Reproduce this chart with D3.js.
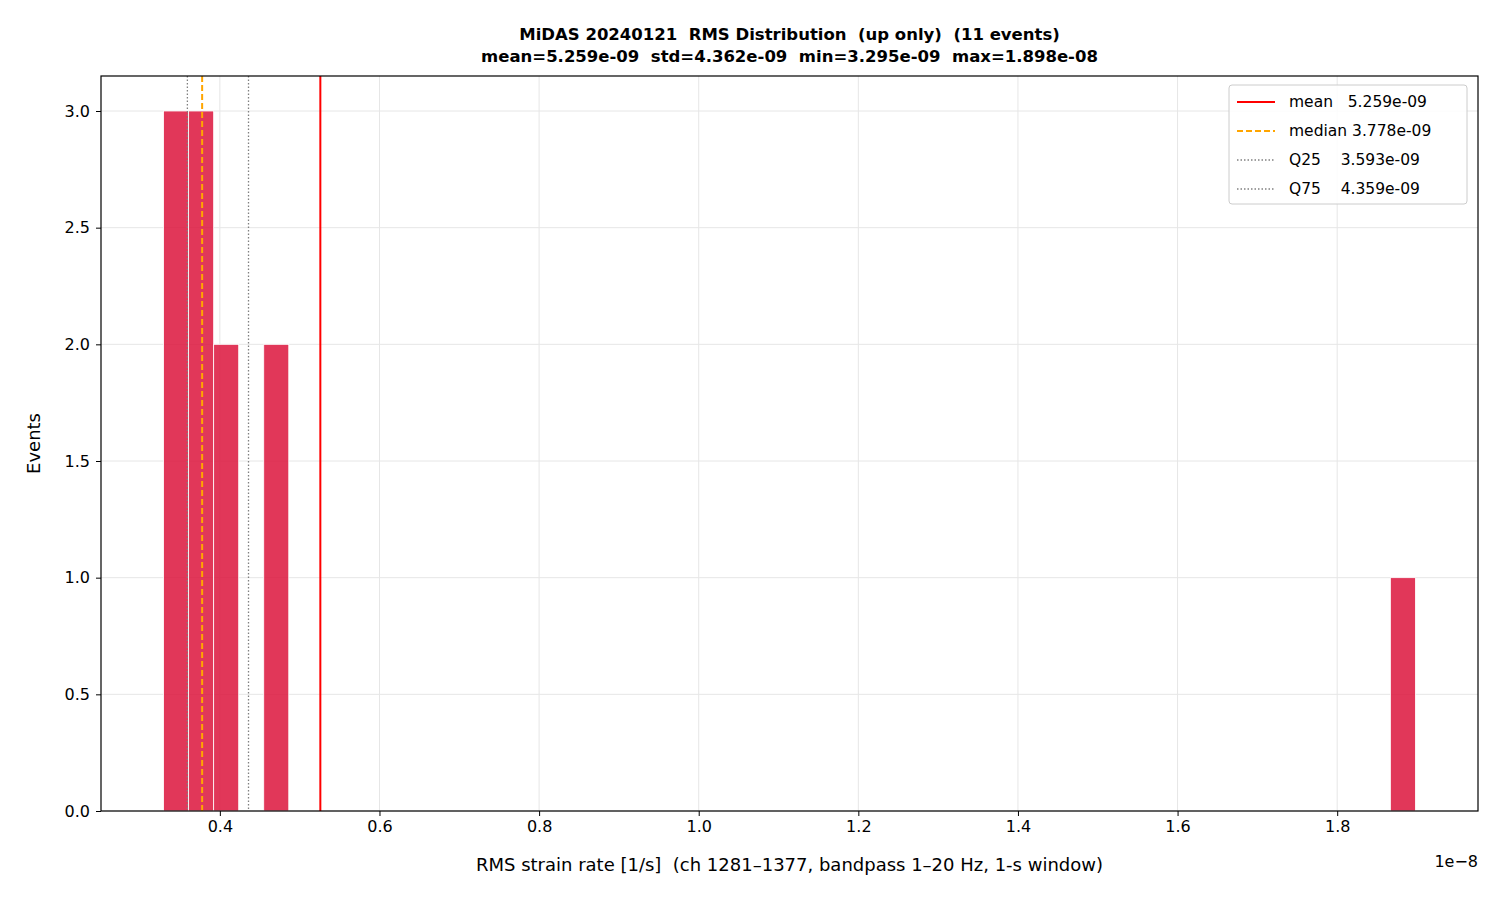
<!DOCTYPE html>
<html><head><meta charset="utf-8">
<script src="https://cdn.jsdelivr.net/npm/d3@7"></script>
<style>body{margin:0;background:#fff}text{font-family:"DejaVu Sans",sans-serif;white-space:pre}</style>
</head><body><svg id="c" width="1500" height="900"></svg>
<script>
const titleLines=["MiDAS 20240121  RMS Distribution  (up only)  (11 events)","mean=5.259e-09  std=4.362e-09  min=3.295e-09  max=1.898e-08"];
const dataMin=0.3295, dataMax=1.898, nBins=50;
const counts=[3,3,2,0,2,0,0,0,0,0,0,0,0,0,0,0,0,0,0,0,0,0,0,0,0,0,0,0,0,0,0,0,0,0,0,0,0,0,0,0,0,0,0,0,0,0,0,0,0,1];
const xTicks=[0.4,0.6,0.8,1.0,1.2,1.4,1.6,1.8];
const yTicks=[0,0.5,1,1.5,2,2.5,3];
const stats=[{name:"mean",label:"mean   5.259e-09",v:0.5259,color:"red",dash:null,w:2},
{name:"median",label:"median 3.778e-09",v:0.3778,color:"orange",dash:"6,3",w:2},
{name:"Q25",label:"Q25    3.593e-09",v:0.3593,color:"gray",dash:"1.5,2",w:1.3},
{name:"Q75",label:"Q75    4.359e-09",v:0.4359,color:"gray",dash:"1.5,2",w:1.3}];
const L=101,R=1478,T=76,B=811;
const svg=d3.select("#c");
const pad=(dataMax-dataMin)*0.05;
const x=d3.scaleLinear().domain([dataMin-pad,dataMax+pad]).range([L,R]);
const y=d3.scaleLinear().domain([0,3.15]).range([B,T]);
const bw=(dataMax-dataMin)/nBins;
svg.append("g").selectAll("line").data(xTicks).join("line").attr("x1",d=>x(d)).attr("x2",d=>x(d)).attr("y1",T).attr("y2",B).attr("stroke","#e6e6e6");
svg.append("g").selectAll("line").data(yTicks).join("line").attr("y1",d=>y(d)).attr("y2",d=>y(d)).attr("x1",L).attr("x2",R).attr("stroke","#e6e6e6");
svg.append("g").selectAll("rect").data(counts.map((c,i)=>({c,i})).filter(d=>d.c>0)).join("rect")
.attr("x",d=>x(dataMin+d.i*bw)).attr("width",d=>x(dataMin+(d.i+1)*bw)-x(dataMin+d.i*bw))
.attr("y",d=>y(d.c)).attr("height",d=>B-y(d.c)).attr("fill","#dc143c").attr("fill-opacity",0.85).attr("stroke","#fff").attr("stroke-width",0.8);
stats.forEach(s=>svg.append("line").attr("x1",x(s.v)).attr("x2",x(s.v)).attr("y1",T).attr("y2",B).attr("stroke",s.color).attr("stroke-width",s.w).attr("stroke-dasharray",s.dash));
svg.append("rect").attr("x",L).attr("y",T).attr("width",R-L).attr("height",B-T).attr("fill","none").attr("stroke","#000").attr("stroke-width",1.2);
const xa=svg.append("g").attr("transform",`translate(0,${B})`).call(d3.axisBottom(x).tickValues(xTicks).tickFormat(d3.format(".1f")).tickSizeOuter(0).tickSize(5).tickPadding(5));
const ya=svg.append("g").attr("transform",`translate(${L},0)`).call(d3.axisLeft(y).tickValues(yTicks).tickFormat(d3.format(".1f")).tickSizeOuter(0).tickSize(5).tickPadding(6));
[xa,ya].forEach(a=>{a.attr("font-size",16).attr("font-family","DejaVu Sans");a.select(".domain").remove();a.selectAll("text").attr("fill","#000");a.selectAll("line").attr("stroke","#000");});
svg.append("text").attr("x",R).attr("y",867).attr("text-anchor","end").attr("font-size",16).text("1e−8");
svg.append("text").attr("x",(L+R)/2).attr("y",871).attr("text-anchor","middle").attr("font-size",18).text("RMS strain rate [1/s]  (ch 1281–1377, bandpass 1–20 Hz, 1-s window)");
svg.append("text").attr("transform",`translate(40,${(T+B)/2}) rotate(-90)`).attr("text-anchor","middle").attr("font-size",18).text("Events");
titleLines.forEach((t,i)=>svg.append("text").attr("x",(L+R)/2).attr("y",40+i*22).attr("text-anchor","middle").attr("font-size",16.5).attr("font-weight","bold").text(t));
const lg=svg.append("g").attr("transform","translate(1229,85)");
lg.append("rect").attr("width",238).attr("height",119).attr("rx",3).attr("fill","#fff").attr("fill-opacity",0.85).attr("stroke","#ccc");
stats.forEach((s,i)=>{const yy=17+i*29;
lg.append("line").attr("x1",8).attr("x2",46).attr("y1",yy).attr("y2",yy).attr("stroke",s.color).attr("stroke-width",s.w).attr("stroke-dasharray",s.dash);
lg.append("text").attr("x",60).attr("y",yy+5).attr("font-size",15.5).text(s.label);});
</script></body></html>
